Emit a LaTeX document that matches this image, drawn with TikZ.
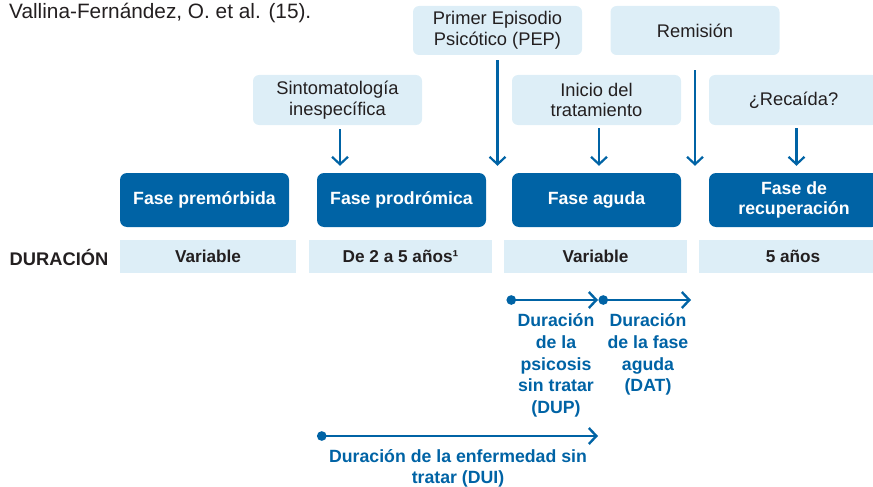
\documentclass[tikz,border=0pt]{standalone}
\usepackage{fontspec}
\setmainfont{Liberation Sans}
\usetikzlibrary{arrows.meta}
\definecolor{dblue}{HTML}{0063A5}
\definecolor{lblue}{HTML}{DDEEF7}
\definecolor{dgray}{HTML}{231F20}
\tikzset{
  lbox/.style={fill=lblue, rounded corners=6pt, minimum width=169pt, minimum height=50pt,
    align=center, text=dgray, font=\fontsize{18.3}{20.5}\selectfont, inner sep=0pt},
  pbox/.style={fill=dblue, rounded corners=7pt, minimum width=169pt, minimum height=54pt,
    align=center, text=white, font=\bfseries\fontsize{17.7}{20.5}\selectfont, inner sep=0pt},
  dbox/.style={fill=lblue, minimum height=33pt, text=dgray,
    font=\bfseries\fontsize{17.2}{20}\selectfont, inner sep=0pt},
  darr/.style={draw=dblue, line width=2.2pt, -{Straight Barb[length=7.5pt,width=16pt]}},
  tarr/.style={draw=dblue, line width=2.4pt, {Circle[length=9.5pt]}-{Straight Barb[length=7.5pt,width=16pt]}},
  btext/.style={text=dblue, align=center, inner sep=0pt, font=\bfseries\fontsize{17.7}{21.7}\selectfont}
}
\begin{document}
\begin{tikzpicture}[x=1pt,y=-1pt]
\useasboundingbox (0,0) rectangle (873,487);
\begin{scope}
\clip (0,0) rectangle (873,487);
\node[anchor=base west, inner sep=0pt, text=dgray, font=\fontsize{20.8}{22}\selectfont] (src) at (9,18.5) {Vallina-Fernández, O. et al. (15).};

% top event boxes
\node[lbox, minimum height=49pt] (pep) at (497.5,30.5) {Primer Episodio\\Psicótico (PEP)};
\node[lbox, minimum height=49pt] (rem) at (695,30.5) {Remisión};
\node[lbox] (sinto) at (337.5,100) {Sintomatología\\inespecífica};
\node[lbox] (inicio) at (596.5,100) {Inicio del\\tratamiento};
\node[lbox] (reca) at (793.5,100) {¿Recaída?};

% phase boxes
\node[pbox] (prem) at (204.5,200) {Fase premórbida};
\node[pbox] (prod) at (401.5,200) {Fase prodrómica};
\node[pbox] (aguda) at (596.5,200) {Fase aguda};
\node[pbox, minimum width=170pt] (recup) at (794,200) {Fase de\\recuperación};

% duration row
\node[anchor=center, inner sep=0pt, text=dgray, font=\bfseries\fontsize{18.3}{20}\selectfont] (dur) at (59,257) {DURACIÓN};
\node[dbox, minimum width=176pt] (d1) at (208,256.5) {Variable};
\node[dbox, minimum width=183pt] (d2) at (400.5,256.5) {De 2 a 5 años¹};
\node[dbox, minimum width=183pt] (d3) at (595.5,256.5) {Variable};
\node[dbox, minimum width=188pt] (d4) at (793,256.5) {5 años};

% vertical arrows
\draw[darr, shorten <=4pt, shorten >=7pt] ([xshift=2.5pt]sinto.south) -- ([xshift=2.5pt]sinto.south |- prod.north);
\draw[darr, shorten <=5pt, shorten >=7pt] (pep.south) -- (pep.south |- prod.north);
\draw[darr, shorten <=15pt, shorten >=7pt] (rem.south) -- (rem.south |- aguda.north);
\draw[darr, shorten <=3pt, shorten >=7pt] ([xshift=2.5pt]inicio.south) -- ([xshift=2.5pt]inicio.south |- aguda.north);
\draw[darr, shorten <=3pt, shorten >=7pt] ([xshift=3pt]reca.south) -- ([xshift=3pt]reca.south |- recup.north);

% duration arrows
\coordinate (dupS) at (506.5,300);
\coordinate (dupE) at (598,300);
\coordinate (datS) at (598.5,300);
\coordinate (datE) at (691,300);
\coordinate (duiS) at (317,436);
\coordinate (duiE) at (598,436);
\draw[tarr] (dupS) -- (dupE);
\draw[tarr] (datS) -- (datE);
\draw[tarr] (duiS) -- (duiE);

\node[btext, anchor=north] (dup) at (556,313.5) {Duración\\de la\\psicosis\\sin tratar\\(DUP)};
\node[btext, anchor=north] (dat) at (648,313.5) {Duración\\de la fase\\aguda\\(DAT)};
\node[btext, anchor=north] (dui) at (458,449) {Duración de la enfermedad sin\\tratar (DUI)};
\end{scope}
\end{tikzpicture}
\end{document}
